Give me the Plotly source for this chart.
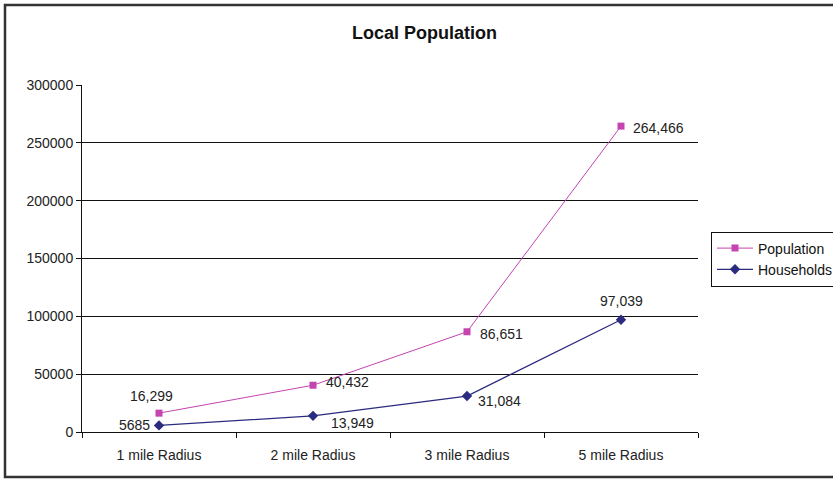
import plotly.graph_objects as go

categories = ["1 mile Radius", "2 mile Radius", "3 mile Radius", "5 mile Radius"]
population = [16299, 40432, 86651, 264466]
households = [5685, 13949, 31084, 97039]
pop_labels = ["16,299", "40,432", "86,651", "264,466"]
hh_labels = ["5685", "13,949", "31,084", "97,039"]

W, H = 833, 480
L, R, T, B = 82, 135, 85, 48
pw, ph = W - L - R, H - T - B

def px_x(px):
    return (px - L) / pw

def px_y(py):
    return (H - B - py) / ph

pink = "#C444B0"
navy = "#2B2B80"
FS = 14

fig = go.Figure()
fig.add_trace(go.Scatter(x=categories, y=population, name="Population", mode="lines+markers",
                         line=dict(color=pink, width=1), marker=dict(symbol="square", size=7, color=pink)))
fig.add_trace(go.Scatter(x=categories, y=households, name="Households", mode="lines+markers",
                         line=dict(color=navy, width=1.3), marker=dict(symbol="diamond", size=8, color=navy)))

# label offsets (pixels) and anchors
pop_off = [(-8, 17, "center"), (11, 3, "left"), (11, -2, "left"), (10, -2, "left")]
hh_off = [(-7, 0, "right"), (16, -7, "left"), (9, -5, "left"), (0, 19, "center")]
for i, c in enumerate(categories):
    dx, dy, anc = pop_off[i]
    fig.add_annotation(x=c, y=population[i], text=pop_labels[i], showarrow=False,
                       xshift=dx, yshift=dy, xanchor=anc, yanchor="middle",
                       font=dict(family="Arial", size=FS, color="#222"))
    dx, dy, anc = hh_off[i]
    fig.add_annotation(x=c, y=households[i], text=hh_labels[i], showarrow=False,
                       xshift=dx, yshift=dy, xanchor=anc, yanchor="middle",
                       font=dict(family="Arial", size=FS, color="#222"))

fig.add_annotation(xref="paper", yref="paper", x=px_x(425), y=px_y(33), text="<b>Local Population</b>",
                   showarrow=False, xanchor="center", yanchor="middle",
                   font=dict(family="Arial", size=18, color="#111"))

# outer chart frame
fig.add_shape(type="rect", xref="paper", yref="paper", x0=px_x(5), x1=px_x(845), y0=px_y(477), y1=px_y(5),
              line=dict(color="#333", width=2.5), layer="below")

fig.update_layout(
    width=W, height=H, margin=dict(l=L, r=R, t=T, b=B, autoexpand=False),
    paper_bgcolor="white", plot_bgcolor="white",
    font=dict(family="Arial", size=FS, color="#222"),
    showlegend=True,
    legend=dict(x=px_x(711), y=px_y(259), xanchor="left", yanchor="middle",
                bordercolor="#111", borderwidth=1, bgcolor="white",
                font=dict(family="Arial", size=FS, color="#111"), tracegroupgap=0,
                itemwidth=36),
    xaxis=dict(type="category", range=[-0.5, 3.5], showline=True, linecolor="#111", linewidth=1,
               ticks="outside", ticklen=5, tickcolor="#111", tickson="boundaries",
               ticklabelstandoff=10,
               showgrid=False, tickfont=dict(family="Arial", size=FS, color="#222")),
    yaxis=dict(range=[0, 300000], dtick=50000, showline=True, linecolor="#111", linewidth=1,
               ticks="outside", ticklen=5, tickcolor="#111", showgrid=True, gridcolor="#111",
               gridwidth=1, tickformat="d", zeroline=False,
               tickfont=dict(family="Arial", size=FS, color="#222")),
)

fig.write_html("out.html", config={"displayModeBar": False},
               post_script="document.body.style.margin='0px';document.body.style.padding='0px';")
